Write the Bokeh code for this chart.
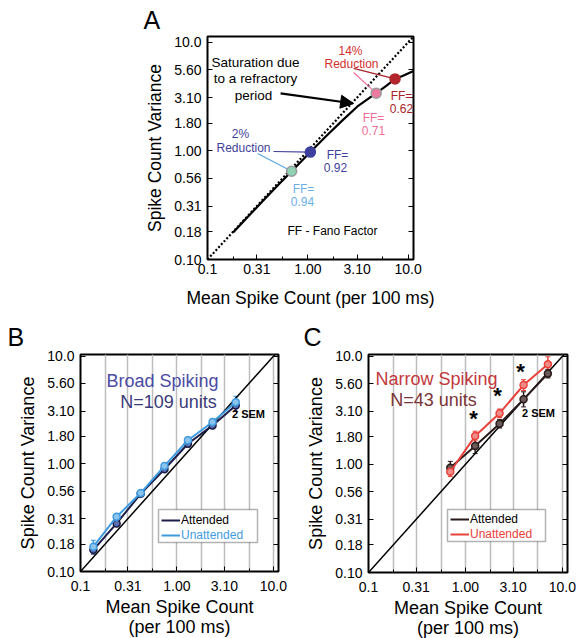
from bokeh.plotting import figure
from bokeh.layouts import column, row
from bokeh.models import (FixedTicker, CustomJSTickFormatter, LogAxis, Label, Arrow,
                          NormalHead, Whisker, TeeHead, Legend, LegendItem, BoxAnnotation,
                          ColumnDataSource, Range1d)
from bokeh.embed import file_html
from bokeh.resources import INLINE
import math

FONT = "Liberation Sans"

# ---------------- ticks ----------------
y_tick_vals = [0.1, 0.18, 0.31, 0.56, 1.0, 1.8, 3.1, 5.6, 10.0]
y_tick_labels = ["0.10", "0.18", "0.31", "0.56", "1.00", "1.80", "3.10", "5.60", "10.0"]
x_tick_vals = [0.1, 0.31, 1.0, 3.1, 10.0]
x_tick_labels = ["0.1", "0.31", "1.00", "3.10", "10.0"]
x_minor_vals = [0.18, 0.56, 1.8, 5.6]

# ---------------- panel A data ----------------
a_model_mean = [0.18, 0.25, 0.35, 0.5, 0.69, 1.06, 1.5, 2.2, 3.1, 4.8, 6.0, 7.4, 9.0, 11.3]
a_model_var = [0.177, 0.245, 0.34, 0.48, 0.65, 0.975, 1.35, 1.9, 2.55, 3.4, 3.95, 4.6, 4.95, 5.45]
a_pt_mean = [0.69, 1.06, 4.8, 7.4]
a_pt_var = [0.65, 0.975, 3.4, 4.6]
a_pt_ff = ["0.94", "0.92", "0.71", "0.62"]

# ---------------- panel B data ----------------
b_mean = [0.136, 0.237, 0.421, 0.743, 1.30, 2.34, 4.07]
b_att_var = [0.159, 0.28, 0.528, 0.893, 1.54, 2.28, 3.49]
b_unatt_var = [0.170, 0.323, 0.536, 0.958, 1.66, 2.45, 3.75]
b_att_err = [0.04, 0.03, 0.02, 0.025, 0.03, 0.03, 0.055]
b_unatt_err = [0.06, 0.03, 0.02, 0.025, 0.03, 0.03, 0.055]

# ---------------- panel C data ----------------
c_mean = [0.698, 1.26, 2.25, 3.98, 7.09]
c_att_var = [0.93, 1.48, 2.38, 4.0, 6.92]
c_unatt_var = [0.855, 1.83, 2.97, 5.42, 8.43]
c_att_err = [0.06, 0.07, 0.04, 0.07, 0.04]
c_unatt_err = [0.045, 0.045, 0.04, 0.05, 0.07]

LO = 0.1
HI = 11.3
HI_BC_Y = 10.4


def tick_formatter(vals, labels):
    return CustomJSTickFormatter(args=dict(vals=vals, labs=labels), code="""
        let best = 0;
        for (let i = 0; i < vals.length; i++) {
            if (Math.abs(Math.log10(vals[i]) - Math.log10(tick)) <
                Math.abs(Math.log10(vals[best]) - Math.log10(tick))) { best = i; }
        }
        return labs[best];
    """)


def blank_formatter():
    return CustomJSTickFormatter(code="return '';")


def make_fig(fw, fh, left, right, top, bottom, yhi, label_size, xlabel, xstand, xlstand,
             xl_lh, letter, letter_offset, letter_standoff):
    p = figure(frame_width=fw, frame_height=fh, min_border_left=left, min_border_right=right,
               min_border_top=top, min_border_bottom=bottom,
               x_axis_type="log", y_axis_type="log",
               x_range=Range1d(LO, HI), y_range=Range1d(LO, yhi),
               output_backend="svg", toolbar_location=None,
               background_fill_color="white", border_fill_color="white")
    p.title.text = letter
    p.title.text_font = FONT
    p.title.text_font_size = "25px"
    p.title.text_font_style = "normal"
    p.title.text_color = "black"
    p.title.align = "left"
    p.title.offset = letter_offset
    p.title.standoff = letter_standoff
    p.title.text_line_height = 1.0
    p.outline_line_color = "black"
    p.outline_line_width = 2
    p.grid.visible = False
    xt = FixedTicker(ticks=x_tick_vals, minor_ticks=x_minor_vals)
    yt = FixedTicker(ticks=y_tick_vals, minor_ticks=[])
    for ax, t, fmt in ((p.xaxis[0], xt, tick_formatter(x_tick_vals, x_tick_labels)),
                       (p.yaxis[0], yt, tick_formatter(y_tick_vals, y_tick_labels))):
        ax.ticker = t
        ax.formatter = fmt
        ax.axis_line_color = None
        ax.major_tick_in = 5
        ax.major_tick_out = 0
        ax.minor_tick_in = 3
        ax.minor_tick_out = 0
        ax.major_tick_line_width = 1
        ax.major_label_text_font = FONT
        ax.major_label_text_font_size = "14px"
        ax.major_label_text_color = "black"
        ax.axis_label_text_font = FONT
        ax.axis_label_text_font_style = "normal"
        ax.axis_label_text_font_size = label_size
        ax.axis_label_text_color = "black"
    p.yaxis[0].axis_label = "Spike Count Variance"
    p.yaxis[0].major_label_standoff = 6
    p.yaxis[0].axis_label_standoff = 6
    p.xaxis[0].axis_label = xlabel
    p.xaxis[0].major_label_standoff = xstand
    p.xaxis[0].axis_label_standoff = xlstand
    p.xaxis[0].axis_label_text_line_height = xl_lh
    # mirrored inward ticks on the right
    ax = LogAxis(ticker=yt, formatter=blank_formatter(), axis_line_color=None,
                 major_tick_in=5, major_tick_out=0, minor_tick_in=3, minor_tick_out=0,
                 major_label_standoff=0, major_label_text_font_size="1px")
    p.add_layout(ax, "right")
    return p


def add_text(p, x, y, text, size, color, bold=False, align="center", baseline="middle"):
    p.add_layout(Label(x=x, y=y, x_units="screen", y_units="screen", text=text,
                       text_font=FONT, text_font_size=size, text_color=color,
                       text_align=align, text_baseline=baseline,
                       text_font_style="bold" if bold else "normal"))


# ======================= Panel A =======================
pa = make_fig(206, 223, 207, 170, 36, 49, HI, "17.5px", "Mean Spike Count (per 100 ms)", 4, 11,
              1.1, "A", -64, 6)
pa.line([LO, HI], [LO, HI], line_color="black", line_width=2.2, line_dash="2 2")
pa.line(a_model_mean, a_model_var, line_color="black", line_width=2.2)

a_col = ["#8fd3b4", "#3d3f9e", "#ec7aa0", "#b1262b"]
a_edge = ["#9a9a9a", "#3d3f9e", "#9a9a9a", "#b1262b"]
a_txt = ["#6cb0e6", "#3f3f9c", "#ee6f98", "#a8242a"]

# leader lines (start points are annotation positions)
lead_x0 = [0.316, 0.455, 2.86, 2.86]
lead_y0 = [0.946, 0.987, 5.27, 5.74]
pa.segment(x0=lead_x0, y0=lead_y0, x1=a_pt_mean, y1=a_pt_var,
           line_color=["#5aa8e6", "#3f3f9c", "#ee6f98", "#a8242a"], line_width=1.2)
pa.scatter(a_pt_mean, a_pt_var, marker="circle", size=10, fill_color=a_col,
           line_color=a_edge, line_width=1.5)

pa.add_layout(Arrow(end=NormalHead(size=13, fill_color="black", line_color="black"),
                    x_start=0.535, y_start=3.38, x_end=2.86, y_end=2.73,
                    line_color="black", line_width=2.2))

add_text(pa, 48, 197, "Saturation due", "13.5px", "black")
add_text(pa, 48, 181, "to a refractory", "13.5px", "black")
add_text(pa, 46, 164, "period", "13.5px", "black")
add_text(pa, 143, 209, "14%", "12px", "#d2302c")
add_text(pa, 144, 196, "Reduction", "12px", "#d2302c")
add_text(pa, 194, 164, "FF=", "12px", a_txt[3])
add_text(pa, 194, 151, a_pt_ff[3], "12px", a_txt[3])
add_text(pa, 166, 142, "FF=", "12px", a_txt[2])
add_text(pa, 166, 129, a_pt_ff[2], "12px", a_txt[2])
add_text(pa, 33, 126, "2%", "12px", "#3f3f9c")
add_text(pa, 36, 112, "Reduction", "12px", "#3f3f9c")
add_text(pa, 130, 105, "FF=", "12px", a_txt[1])
add_text(pa, 128, 92, a_pt_ff[1], "12px", a_txt[1])
add_text(pa, 96, 71, "FF=", "12px", a_txt[0])
add_text(pa, 95, 58, a_pt_ff[0], "12px", a_txt[0])
add_text(pa, 125, 29, "FF - Fano Factor", "12px", "black")


def bc_panel(fw, fh, left, right, top, bottom, mean, att, unatt, att_err, unatt_err,
             att_col, att_fill, un_col, un_fill, letter, letter_offset):
    p = make_fig(fw, fh, left, right, top, bottom, HI_BC_Y, "18px",
                 "Mean Spike Count\n(per 100 ms)", 9, 3, 1.0, letter, letter_offset, 7)
    p.xgrid.visible = True
    p.xgrid.ticker = FixedTicker(ticks=x_tick_vals, minor_ticks=x_minor_vals)
    p.xgrid.grid_line_color = "#bdbdbd"
    p.xgrid.grid_line_width = 1.5
    p.xgrid.minor_grid_line_color = "#bdbdbd"
    p.xgrid.minor_grid_line_width = 1.5
    p.line([LO, HI], [LO, HI], line_color="black", line_width=1.5)

    def err_src(y, e):
        return ColumnDataSource(dict(x=mean, lo=[v / 10 ** d for v, d in zip(y, e)],
                                     hi=[v * 10 ** d for v, d in zip(y, e)]))
    r_att = p.line(mean, att, line_color=att_col, line_width=2)
    p.add_layout(Whisker(source=err_src(att, att_err), base="x", lower="lo", upper="hi",
                         line_color=att_col, line_width=1.5,
                         upper_head=TeeHead(size=5, line_color=att_col),
                         lower_head=TeeHead(size=5, line_color=att_col)))
    p.scatter(mean, att, marker="circle", size=7, fill_color=att_fill, line_color=att_col,
              line_width=1.5)
    r_un = p.line(mean, unatt, line_color=un_col, line_width=2)
    p.add_layout(Whisker(source=err_src(unatt, unatt_err), base="x", lower="lo", upper="hi",
                         line_color=un_col, line_width=1.5,
                         upper_head=TeeHead(size=5, line_color=un_col),
                         lower_head=TeeHead(size=5, line_color=un_col)))
    p.scatter(mean, unatt, marker="circle", size=7, fill_color=un_fill, line_color=un_col,
              line_width=1.5)
    return p, r_att, r_un


def add_legends(p, box_lrtb, att_r, un_r, un_txt):
    l, r, t, b = box_lrtb
    fw = p.frame_width
    fh = p.frame_height

    def xd(px):
        return 10 ** (math.log10(LO) + px / fw * (math.log10(HI) - math.log10(LO)))

    def yd(py):
        return 10 ** (math.log10(LO) + py / fh * (math.log10(HI_BC_Y) - math.log10(LO)))
    p.add_layout(BoxAnnotation(left=xd(l), right=xd(r), bottom=yd(b), top=yd(t),
                               fill_color="white", fill_alpha=1.0,
                               line_color="black", line_width=1.5))
    for item_r, txt, col, yy in ((att_r, "Attended", "black", b + 15),
                                 (un_r, "Unattended", un_txt, b + 0)):
        lg = Legend(items=[LegendItem(label=txt, renderers=[item_r])],
                    location=(l + 3, yy), orientation="vertical",
                    border_line_color=None, background_fill_alpha=0,
                    label_text_font=FONT, label_text_font_size="12px",
                    label_text_color=col, glyph_width=19, glyph_height=12,
                    label_height=12, label_standoff=1, padding=2, spacing=0, margin=0)
        p.add_layout(lg)


# ======================= Panel B =======================
pb, rb_att, rb_un = bc_panel(198, 217, 80, 12, 44, 69, b_mean, b_att_var, b_unatt_var,
                             b_att_err, b_unatt_err, "#1c1d48", "#5a6fb0", "#3f9be0", "#8cc4ee",
                             "B", -73)
add_legends(pb, (78, 177, 62, 29), rb_att, rb_un, "#3f9be0")
add_text(pb, 82, 191, "Broad Spiking", "18px", "#4b4ba5")
add_text(pb, 88, 170, "N=109 units", "18px", "#3b3b7a")
add_text(pb, 168, 158, "2 SEM", "11px", "black", bold=True)

# ======================= Panel C =======================
pc, rc_att, rc_un = bc_panel(199, 218, 78, 16, 42, 70, c_mean, c_att_var, c_unatt_var,
                             c_att_err, c_unatt_err, "#2a1b1b", "#6a5a5a", "#e8403a", "#f08c88",
                             "C", -65)
add_legends(pc, (79, 177, 63, 31), rc_att, rc_un, "#e8403a")
add_text(pc, 68, 194, "Narrow Spiking", "18px", "#c3383d")
add_text(pc, 65, 173, "N=43 units", "18px", "#7a3538")
add_text(pc, 170, 160, "2 SEM", "11px", "black", bold=True)
for sx, sy in ((105, 154), (129, 177), (152, 201)):
    add_text(pc, sx, sy, "*", "22px", "black", bold=True)

layout = column(pa, row(pb, pc))
open("out.html", "w").write(file_html(layout, INLINE))
